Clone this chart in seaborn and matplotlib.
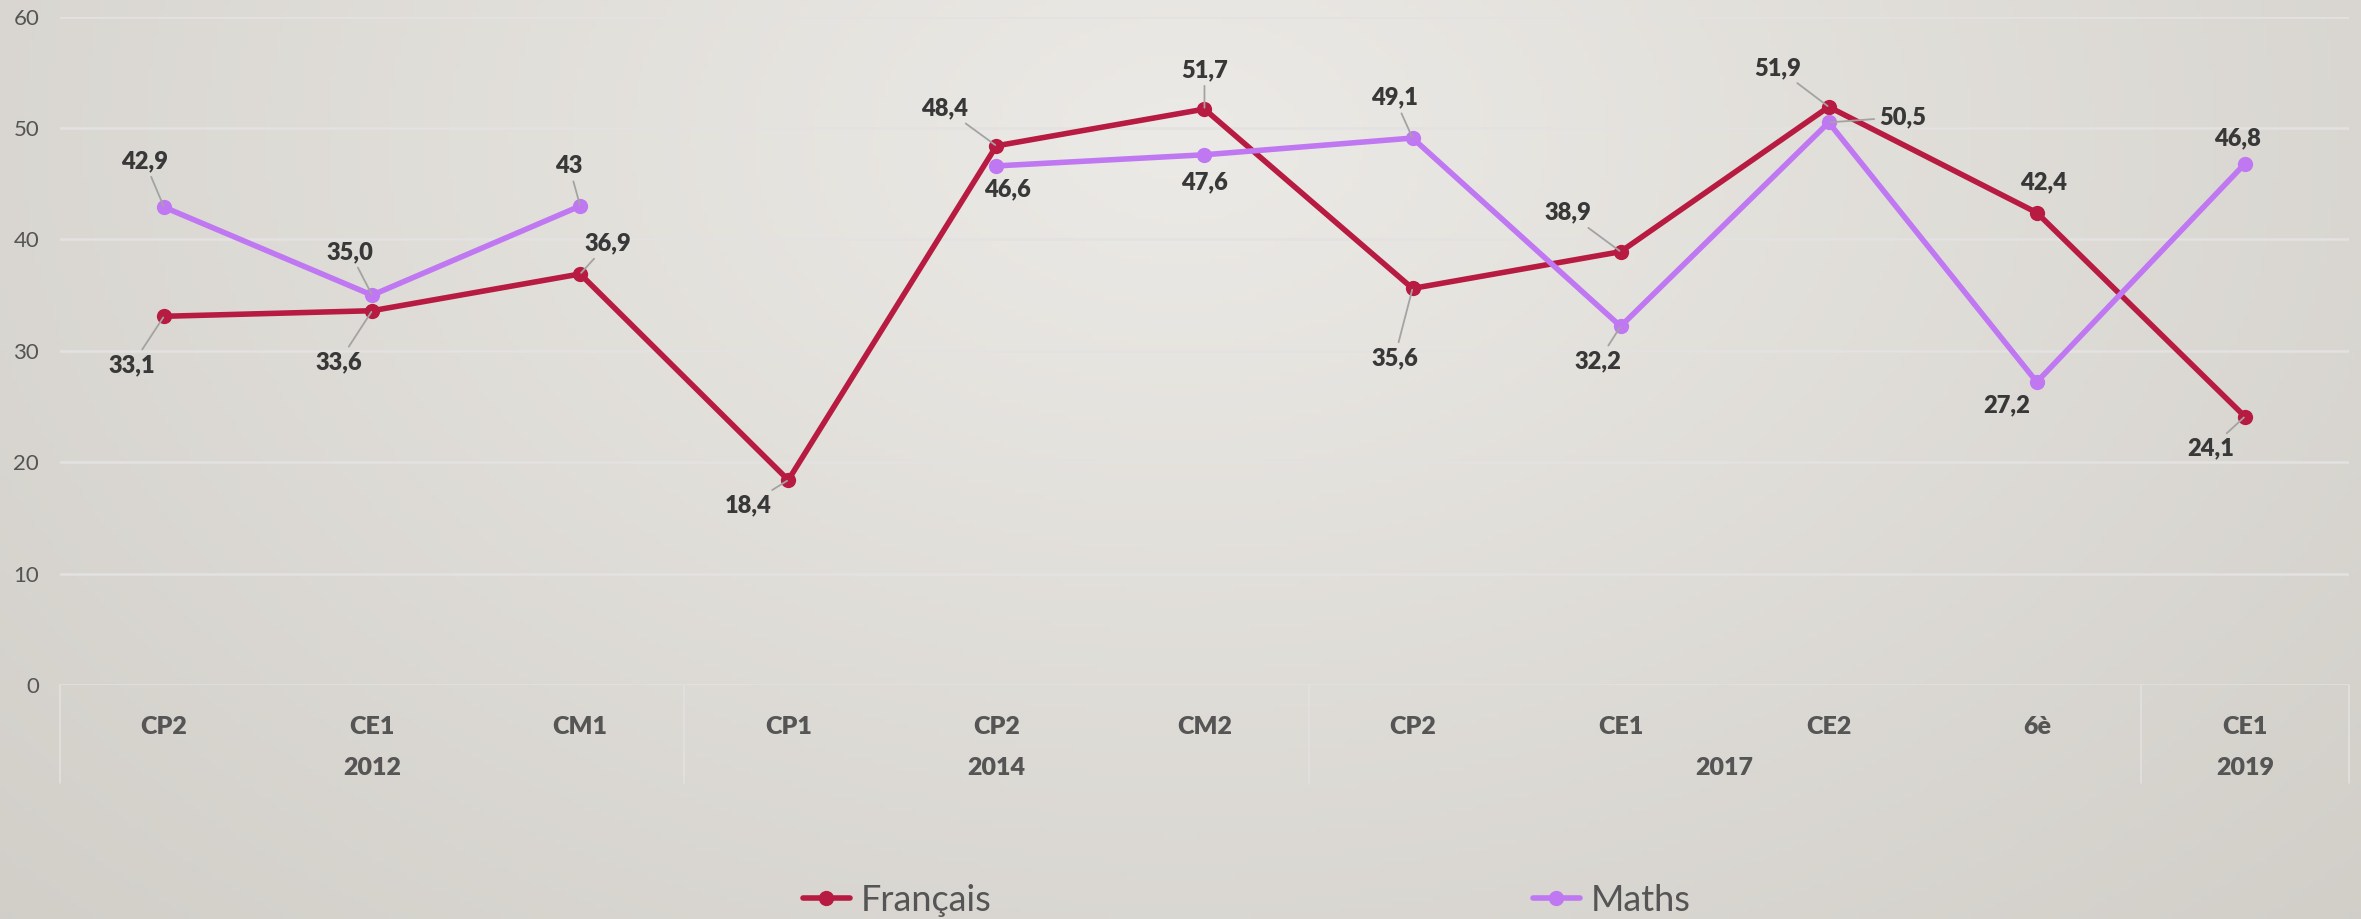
import numpy as np
import pandas as pd
import seaborn as sns
import matplotlib.pyplot as plt
from matplotlib.lines import Line2D
from matplotlib.transforms import blended_transform_factory

levels = ["CP2", "CE1", "CM1", "CP1", "CP2", "CM2", "CP2", "CE1", "CE2", "6è", "CE1"]
years = ["2012", "2014", "2017", "2019"]
year_sizes = [3, 3, 4, 1]

francais = [33.1, 33.6, 36.9, 18.4, 48.4, 51.7, 35.6, 38.9, 51.9, 42.4, 24.1]
maths = [42.9, 35.0, 43, None, 46.6, 47.6, 49.1, 32.2, 50.5, 27.2, 46.8]

# label offsets (points) and whether a leader line is drawn
fr_offsets = [(-23, -35), (-24, -37), (20, 22), (-29, -18), (-37, 27), (0, 28),
              (-13, -50), (-38, 28), (-37, 28), (5, 22), (-25, -23)]
fr_leader = [1, 1, 1, 1, 1, 1, 1, 1, 1, 0, 1]
ma_offsets = [(-14, 33), (-16, 31), (-8, 29), None, (8, -17), (0, -20),
              (-13, 29), (-16, -25), (53, 4), (-22, -17), (-5, 18)]
ma_leader = [1, 1, 1, 0, 0, 0, 1, 1, 1, 0, 0]

col_fr = "#B81B41"
col_ma = "#BF78F2"

sns.set_style("white")
plt.rcParams["font.family"] = ["Lato", "DejaVu Sans"]

fig = plt.figure(figsize=(23.61, 9.19), dpi=100)

# background gradient
bg = fig.add_axes([0, 0, 1, 1], zorder=-10)
gx, gy = np.meshgrid(np.linspace(0, 1, 400), np.linspace(0, 1, 160))
d = np.sqrt(((gx - 0.5) / 0.75) ** 2 + ((gy - 0.15) / 1.3) ** 2)
d = np.clip(d, 0, 1)
c0 = np.array([236, 234, 230]) / 255
c1 = np.array([208, 205, 199]) / 255
img = c0[None, None, :] * (1 - d[..., None]) + c1[None, None, :] * d[..., None]
bg.imshow(img, extent=[0, 1, 0, 1], aspect="auto", origin="upper")
bg.axis("off")

ax = fig.add_axes([0.0254, 0.2546, 0.9695, 0.7273])
ax.set_facecolor("none")

x = np.arange(len(levels))
LW = 4.0
MS = 11


def draw_series(vals, color):
    s = pd.Series(vals, dtype=float)
    seg = s.isna().cumsum()
    for _, part in s[s.notna()].groupby(seg[s.notna()]):
        sns.lineplot(x=x[part.index], y=part.values, ax=ax, color=color,
                     lw=LW, marker="o", markersize=MS, markeredgewidth=0,
                     zorder=3)


draw_series(francais, col_fr)
draw_series(maths, col_ma)


def fmt(v):
    if isinstance(v, int):
        return str(v)
    return f"{v:.1f}".replace(".", ",")


def label_series(vals, offsets, leaders):
    for i, v in enumerate(vals):
        if v is None:
            continue
        ap = None
        if leaders[i]:
            ap = dict(arrowstyle="-", color="#a3a3a3", lw=1.3, shrinkA=1, shrinkB=1)
        ax.annotate(fmt(v), xy=(i, v), xytext=offsets[i], textcoords="offset points",
                    ha="center", va="center", fontsize=17, fontweight="heavy",
                    color="#383838", arrowprops=ap, zorder=4)


label_series(francais, fr_offsets, fr_leader)
label_series(maths, ma_offsets, ma_leader)

ax.set_xlim(-0.5, len(levels) - 0.5)
ax.set_ylim(0, 60)
ax.set_yticks(range(0, 61, 10))
ax.set_xticks(x)
ax.set_xticklabels(levels, fontsize=18, fontweight="heavy", color="#555555")
ax.tick_params(axis="x", length=0, pad=22)
ax.tick_params(axis="y", length=0, pad=15, labelsize=16, labelcolor="#555555")
ax.yaxis.grid(True, color="#e3e2e1", lw=1.8)
ax.xaxis.grid(False)
for sp in ax.spines.values():
    sp.set_visible(False)
ax.set_xlabel("")
ax.set_ylabel("")

# year level of the axis
tr = blended_transform_factory(ax.transData, ax.transAxes)
start = 0
bounds = [-0.5]
for yr, n in zip(years, year_sizes):
    centre = start + (n - 1) / 2
    ax.text(centre, -0.124, yr, transform=tr, ha="center", va="center",
            fontsize=18, fontweight="heavy", color="#555555")
    start += n
    bounds.append(start - 0.5)
for b in bounds:
    ax.plot([b, b], [0, -0.147], transform=tr, color="#e2e1df", lw=1.2,
            clip_on=False, zorder=1)

handles = [Line2D([0], [0], color=col_fr, lw=LW, marker="o", markersize=MS, markeredgewidth=0),
           Line2D([0], [0], color=col_ma, lw=LW, marker="o", markersize=MS, markeredgewidth=0)]
leg = fig.legend(handles, ["Français", "Maths"], loc="center", ncol=2,
                 bbox_to_anchor=(0.528, 0.02), frameon=False, fontsize=26,
                 handlelength=1.3, handletextpad=0.3, columnspacing=15)
for t in leg.get_texts():
    t.set_color("#555555")

fig.savefig("out.png", dpi=100)
